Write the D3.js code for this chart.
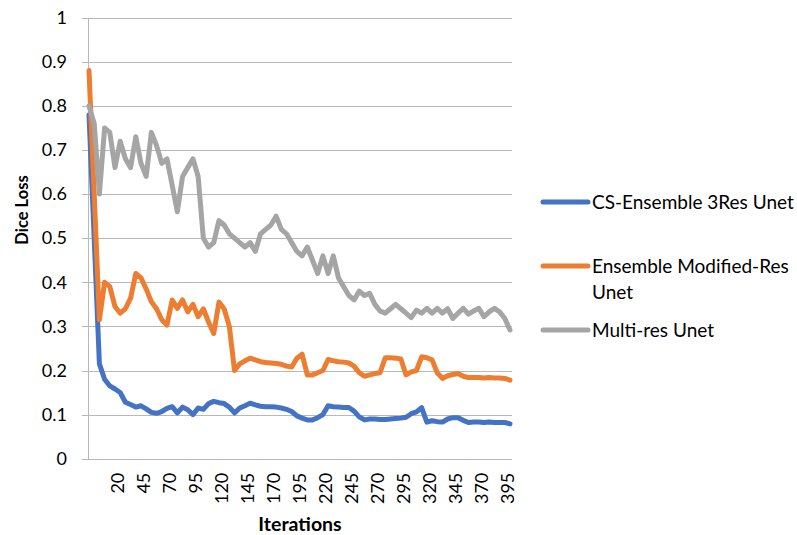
<!DOCTYPE html>
<html><head><meta charset="utf-8">
<script src="https://cdn.jsdelivr.net/npm/d3@7"></script>
<style>body{margin:0;background:#fff}svg{display:block}</style>
</head><body><svg id="c" width="797" height="535"></svg>
<script>
const iterations = d3.range(-5, 405, 5);
const csEnsemble3Res = [0.78,0.50,0.215,0.18,0.165,0.158,0.15,0.128,0.123,0.117,0.12,0.113,0.105,0.103,0.107,0.114,0.118,0.104,0.117,0.111,0.10,0.115,0.112,0.125,0.13,0.127,0.125,0.117,0.104,0.115,0.12,0.126,0.122,0.119,0.118,0.118,0.117,0.115,0.112,0.107,0.097,0.092,0.088,0.088,0.093,0.100,0.12,0.118,0.117,0.116,0.116,0.108,0.095,0.088,0.09,0.09,0.089,0.089,0.09,0.091,0.092,0.094,0.102,0.106,0.116,0.083,0.086,0.084,0.083,0.09,0.093,0.093,0.087,0.082,0.083,0.083,0.082,0.083,0.082,0.082,0.082,0.079];
const ensembleModifiedRes = [0.88,0.60,0.315,0.40,0.39,0.345,0.33,0.34,0.364,0.42,0.41,0.385,0.356,0.34,0.315,0.303,0.36,0.341,0.36,0.333,0.35,0.322,0.34,0.31,0.284,0.355,0.34,0.30,0.20,0.215,0.222,0.228,0.224,0.22,0.218,0.217,0.216,0.214,0.21,0.208,0.228,0.237,0.19,0.19,0.195,0.20,0.225,0.222,0.22,0.219,0.217,0.21,0.195,0.187,0.19,0.193,0.195,0.229,0.229,0.228,0.226,0.19,0.197,0.2,0.231,0.229,0.224,0.195,0.182,0.188,0.191,0.193,0.187,0.184,0.184,0.184,0.183,0.184,0.183,0.183,0.182,0.178];
const multiResUnet = [0.80,0.76,0.60,0.75,0.74,0.66,0.72,0.68,0.66,0.73,0.67,0.64,0.74,0.71,0.67,0.68,0.62,0.56,0.64,0.66,0.68,0.64,0.50,0.48,0.49,0.54,0.53,0.51,0.50,0.49,0.48,0.49,0.47,0.51,0.52,0.53,0.55,0.52,0.51,0.49,0.47,0.46,0.48,0.45,0.42,0.46,0.42,0.46,0.41,0.39,0.37,0.36,0.38,0.37,0.375,0.35,0.335,0.33,0.34,0.35,0.34,0.33,0.32,0.337,0.33,0.341,0.33,0.341,0.33,0.34,0.318,0.33,0.341,0.328,0.335,0.341,0.322,0.333,0.341,0.333,0.318,0.292];
const xTickValues = [20,45,70,95,120,145,170,195,220,245,270,295,320,345,370,395];
const yTickValues = [0,0.1,0.2,0.3,0.4,0.5,0.6,0.7,0.8,0.9,1];
const seriesNames = ["CS-Ensemble 3Res Unet", "Ensemble Modified-Res Unet", "Multi-res Unet"];
const seriesColors = ["#4472C4", "#ED7D31", "#A5A5A5"];
const seriesValues = [csEnsemble3Res, ensembleModifiedRes, multiResUnet];

const FONT = "Lato, 'Open Sans', sans-serif";
const svg = d3.select("#c");
const plotL = 88, plotR = 512, plotT = 17.7, plotB = 458.7;

const x = d3.scaleLinear().domain([-5, 400]).range([89, 510]);
const y = d3.scaleLinear().domain([0, 1]).range([plotB, plotT]);

// gridlines
const grid = svg.append("g").attr("transform", `translate(${plotR},0)`)
  .call(d3.axisLeft(y).tickValues(yTickValues).tickSize(plotR - 82).tickFormat(""));
grid.select(".domain").remove();
grid.selectAll("line").attr("stroke", "#b8b8b8").attr("stroke-width", 1).attr("shape-rendering", "crispEdges");

// y labels
const yAx = svg.append("g").attr("transform", `translate(82,0)`)
  .call(d3.axisLeft(y).tickValues(yTickValues).tickSize(0).tickPadding(15).tickFormat(d3.format("~g")));
yAx.select(".domain").remove();
yAx.selectAll("text").attr("font-family", FONT).attr("font-size", 18).attr("fill", "#000");

// vertical axis line
svg.append("line").attr("x1", plotL).attr("x2", plotL).attr("y1", y(1)).attr("y2", y(0))
  .attr("stroke", "#b8b8b8").attr("stroke-width", 1).attr("shape-rendering", "crispEdges");

// x labels
const xAx = svg.append("g").attr("transform", `translate(0,${plotB})`)
  .call(d3.axisBottom(x).tickValues(xTickValues).tickSize(0).tickFormat(d3.format("d")));
xAx.select(".domain").remove();
xAx.selectAll("text").attr("font-family", FONT).attr("font-size", 18).attr("fill", "#000")
  .attr("text-anchor", "end").attr("x", 0).attr("y", 0).attr("dy", "0.35em")
  .attr("transform", "translate(2,14) rotate(-90)");

// lines
const line = d3.line().x((d, i) => x(iterations[i])).y(d => y(d)).curve(d3.curveLinear);
seriesValues.forEach((vals, k) => {
  svg.append("path").datum(vals).attr("d", line).attr("fill", "none")
    .attr("stroke", seriesColors[k]).attr("stroke-width", 5)
    .attr("stroke-linejoin", "round").attr("stroke-linecap", "round");
});

// titles
svg.append("text").attr("x", 300).attr("y", 531).attr("text-anchor", "middle")
  .attr("font-family", FONT).attr("font-weight", "bold").attr("font-size", 19.5).text("Iterations");
svg.append("text").attr("transform", "translate(28,210) rotate(-90)").attr("text-anchor", "middle")
  .attr("font-family", FONT).attr("font-weight", "bold").attr("font-size", 16.5).text("Dice Loss");

// legend
const legendY = [202, 266, 330];
const legendLines = [["CS-Ensemble 3Res Unet"], ["Ensemble Modified-Res", "Unet"], ["Multi-res Unet"]];
const lg = svg.append("g");
seriesNames.forEach((name, k) => {
  lg.append("line").attr("x1", 543).attr("x2", 588).attr("y1", legendY[k]).attr("y2", legendY[k])
    .attr("stroke", seriesColors[k]).attr("stroke-width", 5).attr("stroke-linecap", "round");
  const t = lg.append("text").attr("x", 592).attr("y", legendY[k] + 6.5)
    .attr("font-family", FONT).attr("font-size", 19).attr("fill", "#000");
  legendLines[k].forEach((s, j) => {
    t.append("tspan").attr("x", 592).attr("dy", j === 0 ? 0 : 26).text(s);
  });
});
</script></body></html>
